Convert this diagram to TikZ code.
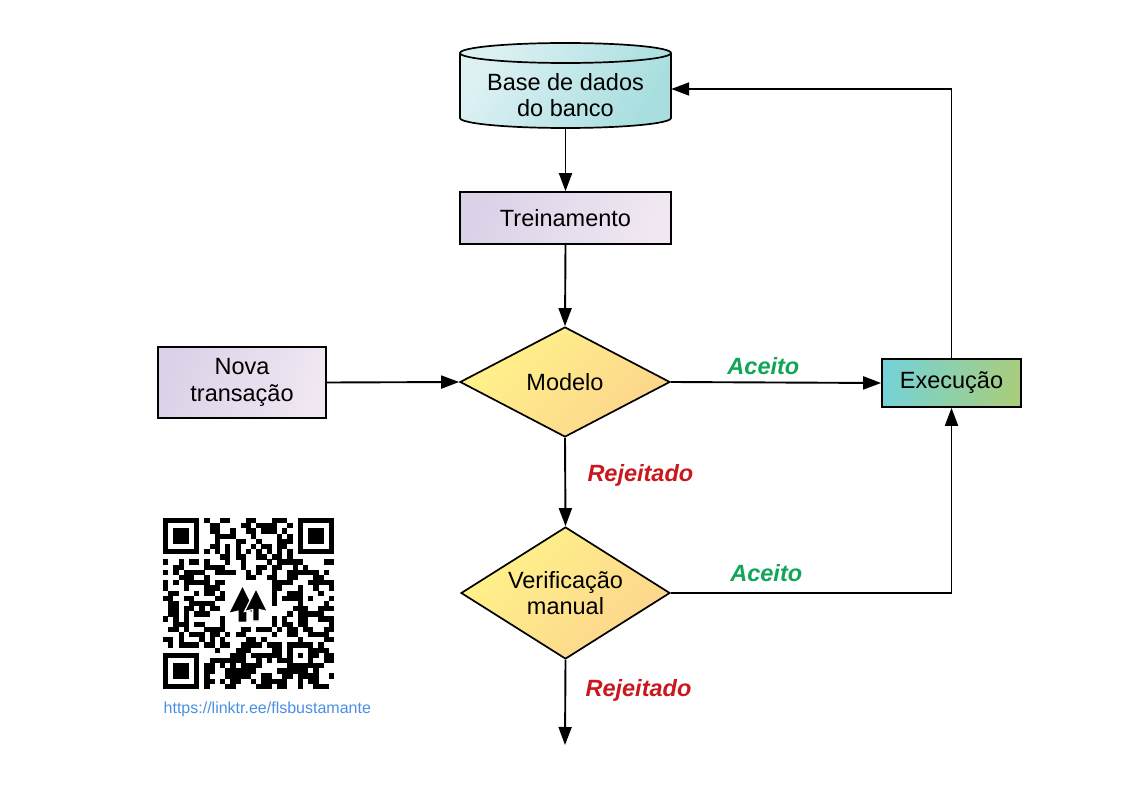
\documentclass[tikz,border=0pt]{standalone}
\usepackage{fontspec}
\setmainfont{Liberation Sans}
\usetikzlibrary{shapes.geometric,arrows.meta}
\definecolor{cylA}{HTML}{DDF1F3}
\definecolor{cylB}{HTML}{A8DEDF}
\definecolor{lavA}{HTML}{DBD2E8}
\definecolor{lavB}{HTML}{F0E7F2}
\definecolor{yelA}{HTML}{FFF38A}
\definecolor{yelB}{HTML}{FCD48C}
\definecolor{exA}{HTML}{76D2D4}
\definecolor{exB}{HTML}{A8CD7E}
\definecolor{accc}{HTML}{12A55A}
\definecolor{rejc}{HTML}{C9191F}
\definecolor{urlc}{HTML}{4A90E2}
\begin{document}
\begin{tikzpicture}[x=1pt,y=-1pt,
  mainfont/.style={font=\fontsize{23.5}{26.5}\selectfont},
  box/.style={draw=black, line width=1.7pt, inner sep=0pt, align=center, mainfont},
  dia/.style={diamond, draw=black, line width=1.7pt, inner sep=0pt, align=center, mainfont},
  conn/.style={draw=black, line width=1.9pt, -{Triangle[length=18pt,width=13pt]}},
  lblacc/.style={font=\fontsize{23.5}{26.5}\selectfont\bfseries\itshape, text=accc},
  lblrej/.style={font=\fontsize{23.5}{26.5}\selectfont\bfseries\itshape, text=rejc},
  qrmod/.style={fill=black}
]
\fill[white] (0,0) rectangle (1123,794);
\useasboundingbox (0,0) rectangle (1123,794);

% database cylinder
\path[draw=black, line width=1.7pt, left color=cylA, right color=cylB, shading angle=60]
  (460,53) -- (460,118) arc[start angle=180, end angle=0, x radius=105.5, y radius=10]
  -- (671,53) arc[start angle=0, end angle=-180, x radius=105.5, y radius=10] -- cycle;
\draw[line width=1.7pt] (460,53) arc[start angle=180, end angle=0, x radius=105.5, y radius=10];
\node[inner sep=0pt, minimum width=211, minimum height=85] (db) at (565.5,85.5) {};
\node[align=center, mainfont, inner sep=0pt] (dbtext) at (565.5,95) {Base de dados\\do banco};

% nodes
\node[box, minimum width=211, minimum height=52, left color=lavA, right color=lavB, shading angle=70] (train) at (565.5,218) {Treinamento};
\node[box, minimum width=168, minimum height=71, left color=lavA, right color=lavB, shading angle=70] (nova) at (242,382.5) {Nova\\transação};
\node[dia, minimum width=210, minimum height=110, aspect=1.9, left color=yelA, right color=yelB, shading angle=45] (model) at (565,382) {Modelo};
\node[box, minimum width=139, minimum height=48, left color=exA, right color=exB, shading angle=80] (exec) at (951.5,383) {Execução};
\node[dia, minimum width=209, minimum height=132, aspect=1.58, left color=yelA, right color=yelB, shading angle=45] (verif) at (565.5,593) {Verificação\\manual};
\coordinate (endp) at (565,745);

% connectors
\draw[conn] (db.south) -- (train.north);
\draw[conn] (train.south) -- (model.north);
\draw[conn] (nova.east) -- (model.west);
\draw[conn] (model.east) -- node[lblacc, pos=0.44, above=3pt] {Aceito} (exec.west);
\draw[conn] (model.south) -- node[lblrej, pos=0.42, right=18pt] {Rejeitado} (verif.north);
\draw[conn] (verif.east) -| node[lblacc, pos=0.17, above=7pt] {Aceito} (exec.south);
\draw[conn] (exec.north) |- ([yshift=-3.5pt]db.east);
\draw[conn] (verif.south) -- node[lblrej, pos=0.36, right=16pt] {Rejeitado} (endp);

% QR code
\begin{scope}[shift={(163,518)}, x=5.18pt, y=-5.18pt]
  \pgfmathsetseed{4242}
  \foreach \i in {0,...,32}{
    \foreach \j in {0,...,32}{
      \pgfmathrandominteger{\qrr}{0}{1}
      \pgfmathtruncatemacro{\qskp}{((\i<8)&&(\j<8)) || ((\i>24)&&(\j<8)) || ((\i<8)&&(\j>24)) || (\i==6) || (\j==6) || ((\i>23)&&(\i<29)&&(\j>23)&&(\j<29)) || ((\i>11)&&(\i<21)&&(\j>11)&&(\j<21))}
      \ifnum\qskp=0 \ifnum\qrr=1 \fill[qrmod] (\i,\j) rectangle ++(1.02,1.02); \fi\fi
    }
  }
  \foreach \k in {8,10,...,24}{
    \fill[qrmod] (\k,6) rectangle ++(1.02,1.02);
    \fill[qrmod] (6,\k) rectangle ++(1.02,1.02);
  }
  \foreach \ox/\oy in {0/0, 26/0, 0/26}{
    \fill[qrmod] (\ox,\oy) rectangle ++(7,7);
    \fill[white] (\ox+1,\oy+1) rectangle ++(5,5);
    \fill[qrmod] (\ox+2,\oy+2) rectangle ++(3,3);
  }
  \fill[qrmod] (24,24) rectangle ++(5,5);
  \fill[white] (25,25) rectangle ++(3,3);
  \fill[qrmod] (26,26) rectangle ++(1,1);
\end{scope}
% QR logo
\foreach \cx/\st in {242.5/black, 256/white}{
  \filldraw[fill=black, draw=\st, line width=1.2pt]
    (\cx,588.5) -- (\cx+11.5,611.5) -- (\cx+3.2,609.5) -- (\cx+3.2,621) -- (\cx-3.2,621)
    -- (\cx-3.2,609.5) -- (\cx-11.5,611.5) -- cycle;
}
\node[font=\fontsize{16}{18}\selectfont, text=urlc, anchor=west, inner sep=0pt] (url) at (163.5,709) {https://linktr.ee/flsbustamante};
\end{tikzpicture}
\end{document}
